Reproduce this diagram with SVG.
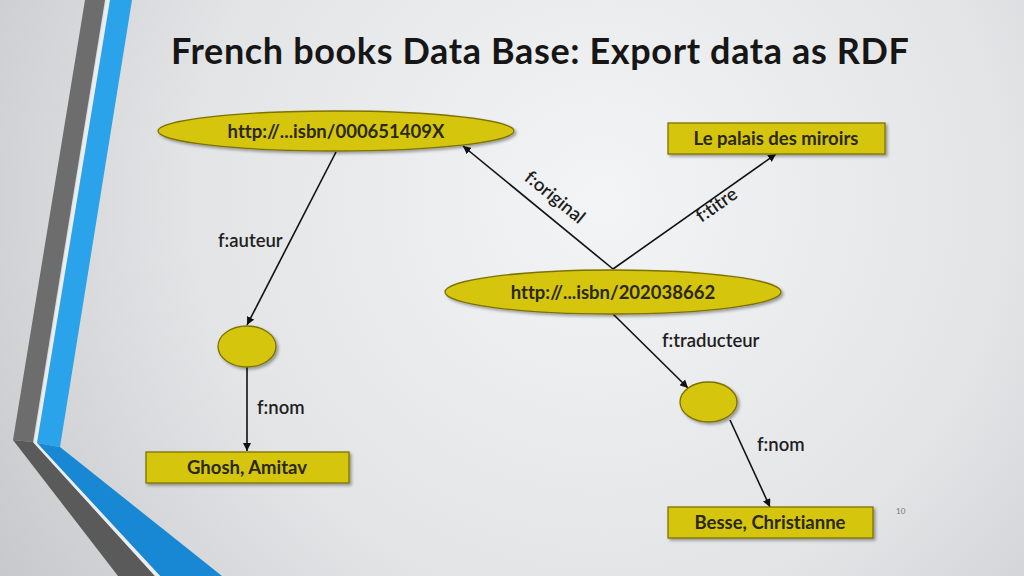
<svg xmlns="http://www.w3.org/2000/svg" width="1024" height="576" viewBox="0 0 1024 576">
<defs>
<radialGradient id="bg" cx="600" cy="200" r="820" gradientUnits="userSpaceOnUse">
<stop offset="0" stop-color="#f3f4f5"/>
<stop offset="0.5" stop-color="#e3e4e6"/>
<stop offset="1" stop-color="#bcbec1"/>
</radialGradient>
<filter id="sh" x="-10%" y="-20%" width="125%" height="150%">
<feDropShadow dx="2" dy="2" stdDeviation="1.5" flood-color="#000" flood-opacity="0.35"/>
</filter>
<marker id="ah" viewBox="0 0 10 10" refX="10" refY="5" markerWidth="8" markerHeight="8" markerUnits="userSpaceOnUse" orient="auto">
<path d="M0,0 L10,5 L0,10 z" fill="#111"/>
</marker>
<style>
text{font-variant-ligatures:none;font-feature-settings:"liga" 0,"clig" 0}
.node{fill:#d6c50e;stroke:#7d7200;stroke-width:1.3;filter:url(#sh)}
.nt{font-family:Lato,"Open Sans",sans-serif;font-weight:bold;font-size:18.5px;fill:#2a2810;text-anchor:middle}
.lbl{font-family:Lato,"Open Sans",sans-serif;font-weight:600;font-size:18.5px;fill:#1e1e1e}
.edge{stroke:#111;stroke-width:1.6;fill:none;marker-end:url(#ah)}
</style>
</defs>
<rect width="1024" height="576" fill="url(#bg)"/>
<g id="decoration">
<polygon points="85,0 105,0 33,442 13,440" fill="#6d6d6e"/>
<polygon points="13,440 33,442 155,576 118,576" fill="#5a5a5b"/>
<polygon points="106,0 110,0 37,443 34,442" fill="#e8eef2"/>
<polygon points="110,0 132,0 60,447 37,443" fill="#2aa3ea"/>
<polygon points="37,443 60,447 222,576 160,576" fill="#1888d4"/>
<polygon points="33,442 37,443 160,576 155,576" fill="#e8eef2"/>
</g>
<text x="540" y="64" font-family="Lato,'Open Sans',sans-serif" font-weight="bold" font-size="36" fill="#161616" text-anchor="middle" textLength="738">French books Data Base:  Export data as RDF</text>
<g id="connectors">
<line class="edge" x1="336" y1="152" x2="247" y2="325"/>
<line class="edge" x1="247" y1="367" x2="247" y2="451"/>
<line class="edge" x1="613" y1="269" x2="463" y2="146"/>
<line class="edge" x1="613" y1="269" x2="776" y2="154"/>
<line class="edge" x1="613" y1="314" x2="688" y2="388"/>
<line class="edge" x1="730" y1="420" x2="770" y2="507"/>
<text class="lbl" x="218" y="247">f:auteur</text>
<text class="lbl" x="257" y="414">f:nom</text>
<text class="lbl" transform="translate(551,202) rotate(39)" text-anchor="middle">f:original</text>
<text class="lbl" transform="translate(720,210) rotate(-35)" text-anchor="middle">f:titre</text>
<text class="lbl" x="662" y="347">f:traducteur</text>
<text class="lbl" x="757" y="451">f:nom</text>
</g>
<g id="n1"><ellipse class="node" cx="336" cy="131" rx="178" ry="20"/><text class="nt" x="336" y="137.5">http://...isbn/000651409X</text></g>
<g id="n2"><rect class="node" x="668" y="123" width="217" height="31"/><text class="nt" x="776" y="145">Le palais des miroirs</text></g>
<g id="n3"><ellipse class="node" cx="613" cy="292" rx="168" ry="22"/><text class="nt" x="613" y="298.5">http://...isbn/202038662</text></g>
<g id="n4"><ellipse class="node" cx="247" cy="346.5" rx="29" ry="20.5"/></g>
<g id="n5"><rect class="node" x="146" y="452" width="203" height="31"/><text class="nt" x="247" y="474">Ghosh, Amitav</text></g>
<g id="n6"><ellipse class="node" cx="708.5" cy="402" rx="28.5" ry="20"/></g>
<g id="n7"><rect class="node" x="668" y="507" width="205" height="31"/><text class="nt" x="770" y="529">Besse, Christianne</text></g>
<text x="896" y="514" font-family="Lato,sans-serif" font-size="8" fill="#777">10</text>
</svg>
